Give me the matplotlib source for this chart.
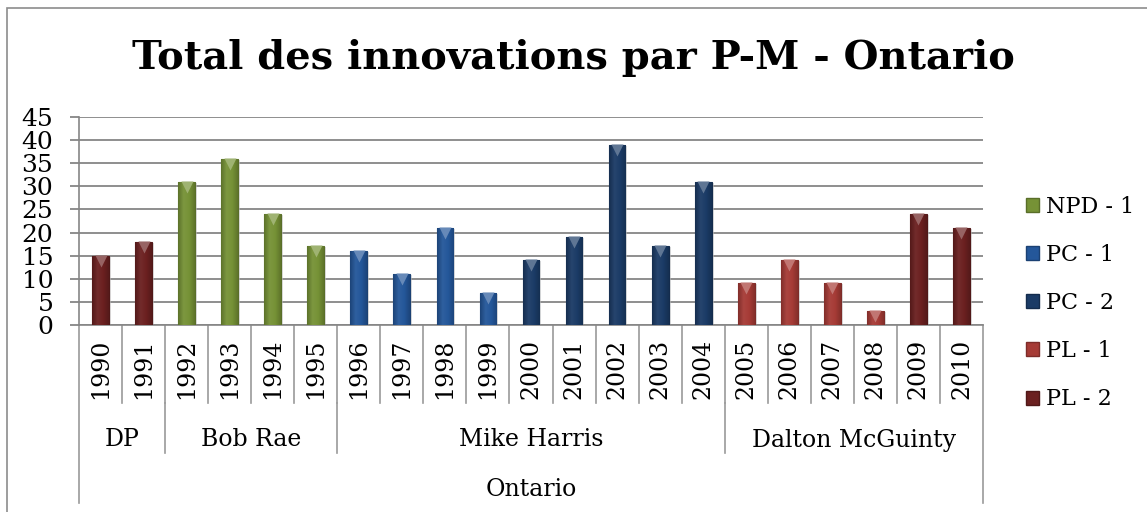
import numpy as np
import matplotlib
matplotlib.use("Agg")
import matplotlib.pyplot as plt
import matplotlib.transforms as mtransforms
from matplotlib.patches import Rectangle, Patch
from matplotlib.colors import LinearSegmentedColormap, to_rgb

W, H = 1147, 512
FONT = "DejaVu Serif"

years = [str(y) for y in range(1990, 2011)]
values = [15, 18, 31, 36, 24, 17, 16, 11, 21, 7, 14, 19, 39, 17, 31, 9, 14, 9, 3, 24, 21]
parties = ["PL - 2", "PL - 2",
           "NPD - 1", "NPD - 1", "NPD - 1", "NPD - 1",
           "PC - 1", "PC - 1", "PC - 1", "PC - 1",
           "PC - 2", "PC - 2", "PC - 2", "PC - 2", "PC - 2",
           "PL - 1", "PL - 1", "PL - 1", "PL - 1",
           "PL - 2", "PL - 2"]
premiers = ["DP", "Bob Rae", "Mike Harris", "Dalton McGuinty"]
premier_sizes = [2, 4, 9, 6]
province = "Ontario"

legend_order = ["NPD - 1", "PC - 1", "PC - 2", "PL - 1", "PL - 2"]
colors = {
    "NPD - 1": "#769236",
    "PC - 1": "#24579a",
    "PC - 2": "#1b3b66",
    "PL - 1": "#a63b36",
    "PL - 2": "#6b2020",
}


def shade(c, f):
    r, g, b = to_rgb(c)
    if f >= 1:
        return tuple(min(1, x + (1 - x) * (f - 1)) for x in (r, g, b))
    return (r * f, g * f, b * f)


def px_x(p):
    return p / W


def px_y(p):
    # pixel row measured from the top -> figure fraction
    return 1 - p / H


fig = plt.figure(figsize=(W / 100, H / 100), dpi=100)
fig.patch.set_facecolor("white")

# outer frame of the chart
fig.add_artist(Rectangle((px_x(7), -0.2), 1.2, px_y(8) + 0.2, transform=fig.transFigure,
                         fill=False, ec="#8c8c8c", lw=1.2))

ax = fig.add_axes([px_x(79), px_y(325), (983 - 79) / W, (325 - 117) / H])
x = np.arange(len(years))
ax.set_xlim(-0.5, len(years) - 0.5)
ax.set_ylim(0, 45)
ax.set_yticks(range(0, 46, 5))
ax.yaxis.grid(True, color="#868686", lw=1.3)
ax.set_axisbelow(True)
for s in ["top", "right"]:
    ax.spines[s].set_visible(False)
ax.spines["left"].set_color("#868686")
ax.spines["bottom"].set_color("#868686")
ax.spines["left"].set_linewidth(1.2)
ax.spines["bottom"].set_linewidth(1.2)
ax.set_xticks([])
ax.tick_params(axis="y", length=6.5, width=1.3, color="#868686", pad=12,
               labelsize=18)
for lab in ax.get_yticklabels():
    lab.set_fontfamily(FONT)

# bars with a soft cylinder-like shading
bar_w = 0.39
shadow = mtransforms.offset_copy(ax.transData, fig=fig, x=2, y=-1, units="dots")
ax.bar(x, values, width=bar_w, color="#c4c4c4", alpha=0.55, transform=shadow, zorder=2)
bars = ax.bar(x, values, width=bar_w, color=[colors[p] for p in parties],
              edgecolor=[shade(colors[p], 0.75) for p in parties], lw=0.8, zorder=3)
for rect, p in zip(bars, parties):
    base = colors[p]
    cmap = LinearSegmentedColormap.from_list(
        "g", [shade(base, 0.78), shade(base, 1.05), base, shade(base, 0.8)])
    grad = np.linspace(0, 1, 64).reshape(1, -1)
    x0 = rect.get_x()
    im = ax.imshow(grad, cmap=cmap, aspect="auto", zorder=3.5,
                   extent=(x0, x0 + rect.get_width(), 0, rect.get_height()))
    im.set_clip_path(rect)

# small highlight triangle at the top of every bar
tip = mtransforms.offset_copy(ax.transData, fig=fig, x=0, y=-5, units="dots")
for xi, v, p in zip(x, values, parties):
    ax.plot(xi, v, marker="v", ms=8.5, mec="none", mfc=shade(colors[p], 1.3),
            transform=tip, zorder=4)

ax.set_xlim(-0.5, len(years) - 0.5)
ax.set_ylim(0, 45)

# multi-level category axis drawn below the plot
tr = mtransforms.blended_transform_factory(ax.transData, fig.transFigure)
line_kw = dict(color="#9a9a9a", lw=1.2, transform=tr, clip_on=False)
y_axis, y_year, y_group, y_prov = px_y(325), px_y(403), px_y(453), px_y(503)

for xi, yr in zip(x, years):
    ax.text(xi, px_y(369), yr, rotation=90, ha="center", va="center",
            fontsize=17, family=FONT, transform=tr)
for i in range(1, len(years)):
    ax.plot([i - 0.5, i - 0.5], [y_axis, y_year], **line_kw)

start = 0
for name, n in zip(premiers, premier_sizes):
    ax.text(start + n / 2 - 0.5, px_y(440), name, ha="center", va="center",
            fontsize=17, family=FONT, transform=tr)
    start += n
    if start < len(years):
        ax.plot([start - 0.5, start - 0.5], [y_year, y_group], **line_kw)

ax.plot([-0.5, -0.5], [y_axis, y_prov], **line_kw)
ax.plot([len(years) - 0.5] * 2, [y_axis, y_prov], **line_kw)
ax.text((len(years) - 1) / 2, px_y(490), province, ha="center", va="center",
        fontsize=17, family=FONT, transform=tr)

fig.text(0.5, px_y(58), "Total des innovations par P-M - Ontario", ha="center",
         va="center", fontsize=28.8, fontweight="bold", family=FONT)

handles = [Patch(facecolor=colors[p], edgecolor=shade(colors[p], 0.75)) for p in legend_order]
fig.legend(handles, legend_order, loc="center left",
           bbox_to_anchor=(px_x(1026), px_y(303)), frameon=False,
           prop={"family": FONT, "size": 16}, handlelength=0.6, handleheight=0.6,
           handletextpad=0.3, labelspacing=1.18, borderaxespad=0, borderpad=0)

fig.savefig("out.png", dpi=100)
